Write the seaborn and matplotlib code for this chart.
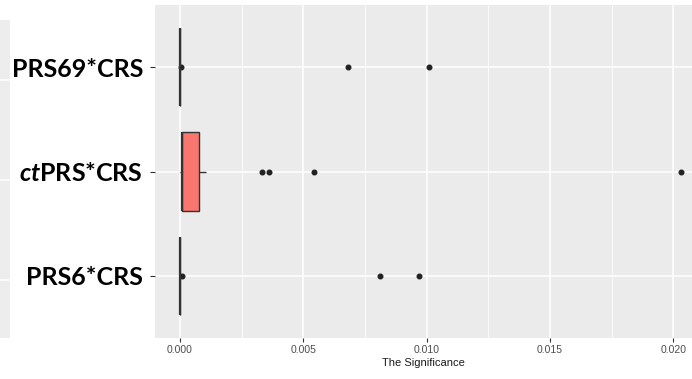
import numpy as np
import pandas as pd
import matplotlib
matplotlib.use("Agg")
import matplotlib.pyplot as plt
from matplotlib.ticker import MultipleLocator
import seaborn as sns

# Interaction terms, top to bottom
groups = ["PRS69*CRS", "ctPRS*CRS", "PRS6*CRS"]
tick_labels = ["PRS69*CRS", r"$\mathbfit{ct}$PRS*CRS", "PRS6*CRS"]

# Significance values per interaction term
prs69_vals = [0.0] * 17 + [0.00005, 0.0068, 0.0101]
ctprs_vals = [0.0, 0.00002, 0.00004, 0.00005, 0.00006, 0.00007, 0.00008, 0.00008,
              0.00009, 0.0001, 0.0001, 0.00012, 0.0003, 0.0006, 0.00069, 0.00107,
              0.00334, 0.00361, 0.00543, 0.0203]
prs6_vals = [0.0] * 17 + [0.00009, 0.0081, 0.0097]

df = pd.DataFrame({
    "group": [groups[0]] * len(prs69_vals) + [groups[1]] * len(ctprs_vals)
             + [groups[2]] * len(prs6_vals),
    "value": prs69_vals + ctprs_vals + prs6_vals,
})

sns.set_theme(style="darkgrid")
plt.rcParams["font.family"] = ["Liberation Sans", "DejaVu Sans"]
plt.rcParams["mathtext.fontset"] = "custom"
plt.rcParams["mathtext.bfit"] = "Lato:italic:bold"
plt.rcParams["mathtext.bf"] = "Lato:bold"
plt.rcParams["mathtext.rm"] = "Lato"

fig = plt.figure(figsize=(6.92, 3.79), dpi=100)

# neighbouring panel cut off at the left edge
side = fig.add_axes([0, 1 - 338 / 379, 10 / 692, (338 - 20) / 379])
side.set_facecolor("#EDEDED")
side.set_xlim(0, 1)
side.set_ylim(338, 20)
for yv in [80, 180, 280]:
    side.axhline(yv, color="white", lw=1.1)
side.set_xticks([])
side.set_yticks([])
for s in side.spines.values():
    s.set_visible(False)

ax = fig.add_axes([155 / 692, 1 - 338 / 379, 1 - 155 / 692, (338 - 5) / 379])
ax.set_facecolor("#EBEBEB")

sns.boxplot(
    data=df, x="value", y="group", order=groups, ax=ax,
    width=0.75, color="#F8766D", saturation=1, linecolor="#333333", linewidth=1.0,
    whis=1.5, showcaps=False,
    medianprops=dict(color="#333333", linewidth=1.6),
    flierprops=dict(marker="o", markerfacecolor="#222222", markeredgecolor="#222222",
                    markersize=3.3),
)

ax.set_xlim(-0.00101, 0.02076)
ax.set_ylim(2.6, -0.6)
ax.xaxis.set_major_locator(MultipleLocator(0.005))
ax.xaxis.set_minor_locator(MultipleLocator(0.0025))
ax.grid(which="major", color="white", lw=1.1)
ax.grid(which="minor", axis="x", color="white", lw=0.55)
ax.set_axisbelow(True)
for s in ax.spines.values():
    s.set_visible(False)

ax.set_xticks([0.0, 0.005, 0.010, 0.015, 0.020])
ax.set_xticklabels(["0.000", "0.005", "0.010", "0.015", "0.020"])
ax.set_yticks(range(len(groups)))
ax.set_yticklabels(tick_labels)
ax.tick_params(axis="x", which="major", length=3, width=0.8, color="#333333",
               labelsize=7.5, labelcolor="#4D4D4D", pad=2, bottom=True)
ax.tick_params(axis="x", which="minor", length=0)
ax.tick_params(axis="y", length=3.5, width=0.8, color="#333333", left=True,
               labelsize=18, pad=5)
for lab in ax.get_yticklabels():
    lab.set_fontfamily("Lato")
    lab.set_fontweight("bold")
    lab.set_color("black")

ax.set_xlabel("The Significance", fontsize=8, color="#1A1A1A", labelpad=2)
ax.set_ylabel("")

fig.savefig("out.png", dpi=100)
